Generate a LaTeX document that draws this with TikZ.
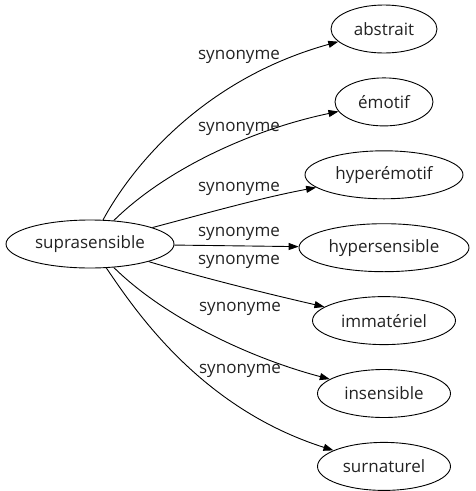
\documentclass[tikz,border=0pt]{standalone}
\usepackage{fontspec}
\setmainfont{Open Sans}
\usetikzlibrary{
  shapes.geometric,
  arrows.meta,
  positioning
}
\definecolor{textprimary}{HTML}{222222}
\definecolor{arrowcolor}{HTML}{000000}
\tikzset{
  base/.style={
    text=textprimary,
    font=\fontsize{17}{20}\selectfont,
    align=center,
    inner sep=0pt,
  },
  word/.style={
    base,
    ellipse,
    draw=arrowcolor,
    line width=0.9pt,
    minimum height=48pt,
    minimum width=#1,
  },
  word/.default=130pt,
  flow/.style={
    -{Triangle[length=10pt, width=7pt]},
    line width=0.9pt,
    draw=arrowcolor,
  },
  elabel/.style={
    base,
  },
}

\begin{document}
\begin{tikzpicture}[x=1pt, y=-1pt]

\useasboundingbox (0,0) rectangle (475,491);

% === Source ===

\node[word=168pt] (supra) at (90,244) {suprasensible};

% === Synonyms ===

\node[word=106pt] (abstrait) at (384,29) {abstrait};

\node[word=98pt, below=24pt of abstrait]
  (emotif) {émotif};

\node[word=158pt, below=24pt of emotif]
  (hyperemotif) {hyperémotif};

\node[word=170pt, below=24pt of hyperemotif]
  (hypersensible) {hypersensible};

\node[word=143pt, below=24pt of hypersensible]
  (immateriel) {immatériel};

\node[word=133pt, below=24pt of immateriel]
  (insensible) {insensible};

\node[word=133pt, below=24pt of insensible]
  (surnaturel) {surnaturel};

% === Edges ===

\draw[flow] (supra) .. controls (130,170) and (200,80) .. (abstrait);
\draw[flow] (supra) .. controls (165,170) and (250,130) .. (emotif);
\draw[flow] (supra) .. controls (200,215) and (260,198) .. (hyperemotif);
\draw[flow] (supra) -- (hypersensible);
\draw[flow] (supra) .. controls (200,277) and (260,292) .. (immateriel);
\draw[flow] (supra) .. controls (165,318) and (250,358) .. (insensible);
\draw[flow] (supra) .. controls (135,310) and (200,408) .. (surnaturel);

% === Edge labels ===

\node[elabel] (l-abstrait) at (239,57) {synonyme};
\node[elabel] (l-emotif) at (239,129) {synonyme};
\node[elabel] (l-hyperemotif) at (239,189) {synonyme};
\node[elabel] (l-hypersensible) at (239,234) {synonyme};
\node[elabel] (l-immateriel) at (239,262) {synonyme};
\node[elabel] (l-insensible) at (240,309) {synonyme};
\node[elabel] (l-surnaturel) at (240,371) {synonyme};

\end{tikzpicture}
\end{document}
